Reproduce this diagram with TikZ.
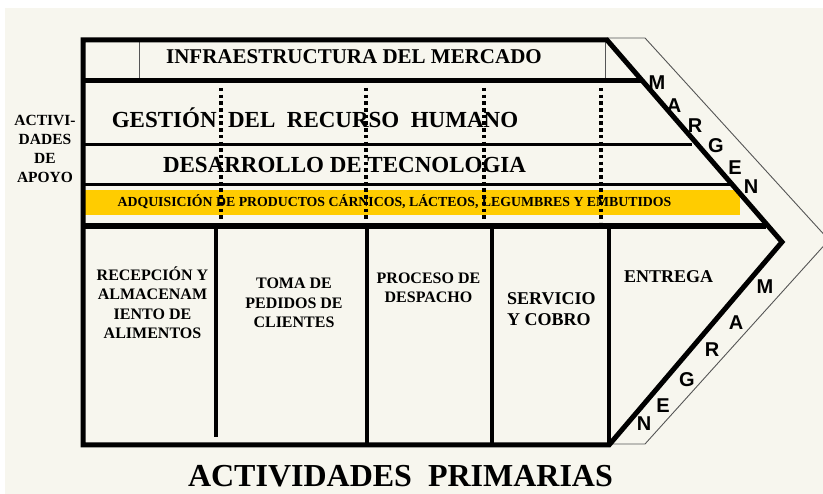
\documentclass[tikz,border=0pt]{standalone}
\usepackage{fontspec}
\setmainfont{Liberation Serif}
\newfontfamily\arialfont{Liberation Sans}
\definecolor{bgc}{HTML}{F7F6EE}
\definecolor{yellowbarc}{HTML}{FFCC00}
\definecolor{thinc}{HTML}{555555}
\tikzset{
  lbl/.style={font=\bfseries, inner sep=0pt, anchor=base, text=black},
  mg/.style={font=\arialfont\bfseries\fontsize{20}{20}\selectfont, inner sep=0pt},
  thickline/.style={line width=5pt, black},
  midline/.style={line width=3pt, black},
  thinline/.style={line width=0.9pt, thinc},
  dotline/.style={line width=4pt, black, dash pattern=on 3.5pt off 3.2pt},
  primline/.style={line width=4pt, black}
}
\begin{document}
\begin{tikzpicture}[x=1pt,y=-1pt]
\useasboundingbox (0,0) rectangle (823,494);
\fill[white] (0,0) rectangle (823,494);
\fill[bgc] (5,8) rectangle (823,494);
\begin{scope}
\clip (0,0) rectangle (823,494);
% yellow bar
\fill[fill=yellowbarc] (84,190) rectangle (740,215);
% outer margin outline
\coordinate (o1) at (607,38);
\coordinate (o2) at (645,38);
\coordinate (o3) at (829,240);
\coordinate (o4) at (645,444);
\coordinate (o5) at (609,444);
\draw[thinline] (o1) -- (o2) -- (o3) -- (o4) -- (o5);
% thin vertical lines in infrastructure row
\draw[thinline] (139,40) -- (139,80);
\draw[thinline] (605,40) -- (605,80);
% horizontal row separators
\draw[thickline] (83,80.5) -- (642,80.5);
\draw[midline] (83,144.5) -- (692,144.5);
\draw[midline] (83,184.5) -- (730,184.5);
\draw[line width=6pt] (83,226) -- (766,226);
% primary activity separators
\draw[primline] (215.5,226) -- (215.5,437);
\draw[primline] (367,226) -- (367,445);
\draw[primline] (492,226) -- (492,445);
\draw[primline] (609,226) -- (609,445);
% main outline
\coordinate (tl) at (83,40);
\coordinate (tr) at (607,40);
\coordinate (tip) at (782,242);
\coordinate (br) at (609,445);
\coordinate (bl) at (83,445);
\draw[thickline, line join=miter] (tl) -- (tr) -- (tip) -- (br) -- (bl) -- cycle;
\end{scope}
% texts
\node[lbl, font=\bfseries\fontsize{21}{21}\selectfont] (infra) at (354,64) {INFRAESTRUCTURA DEL MERCADO};
\node[lbl, font=\bfseries\fontsize{23}{23}\selectfont] (rh) at (315,128) {GESTIÓN~~DEL~~RECURSO~~HUMANO};
\node[lbl, font=\bfseries\fontsize{23}{23}\selectfont] (tec) at (344.5,173) {DESARROLLO DE TECNOLOGIA};
\node[lbl, font=\bfseries\fontsize{13.8}{13.8}\selectfont] (adq) at (394.5,207) {ADQUISICIÓN DE PRODUCTOS CÁRNICOS, LÁCTEOS, LEGUMBRES Y EMBUTIDOS};
\node[lbl, align=center, font=\bfseries\fontsize{15.5}{19.3}\selectfont] (apoyo) at (45,183) {ACTIVI-\\DADES\\DE\\APOYO};
\node[lbl, align=center, font=\bfseries\fontsize{16}{19.5}\selectfont] (rec) at (152.5,339) {RECEPCIÓN Y\\ALMACENAM\\IENTO DE\\ALIMENTOS};
\node[lbl, align=center, font=\bfseries\fontsize{16}{19.5}\selectfont] (toma) at (294,328) {TOMA DE\\PEDIDOS DE\\CLIENTES};
\node[lbl, align=center, font=\bfseries\fontsize{16}{19.5}\selectfont] (proc) at (428.5,303) {PROCESO DE\\DESPACHO};
\node[lbl, align=left, font=\bfseries\fontsize{18}{21}\selectfont, anchor=base west] (serv) at (507,326) {SERVICIO\\Y COBRO};
\node[lbl, font=\bfseries\fontsize{18}{18}\selectfont, anchor=base west] (ent) at (624,283) {ENTREGA};
\node[lbl, font=\bfseries\fontsize{32}{32}\selectfont] (prim) at (400.5,487) {ACTIVIDADES~~PRIMARIAS};
% MARGEN upper
\node[mg] (m1) at (657,83) {M};
\node[mg] (a1) at (674,106) {A};
\node[mg] (r1) at (695,126) {R};
\node[mg] (g1) at (716,146) {G};
\node[mg] (e1) at (735,168) {E};
\node[mg] (n1) at (751,187) {N};
% MARGEN lower
\node[mg] (m2) at (765,287) {M};
\node[mg] (a2) at (736,323) {A};
\node[mg] (r2) at (712,350) {R};
\node[mg] (g2) at (687,380) {G};
\node[mg] (e2) at (663,406) {E};
\node[mg] (n2) at (644,424) {N};
% dotted lines
\draw[dotline] (221,88) -- (221,220);
\draw[dotline] (366,88) -- (366,220);
\draw[dotline] (484,88) -- (484,220);
\draw[dotline] (601,88) -- (601,222);
\end{tikzpicture}
\end{document}
